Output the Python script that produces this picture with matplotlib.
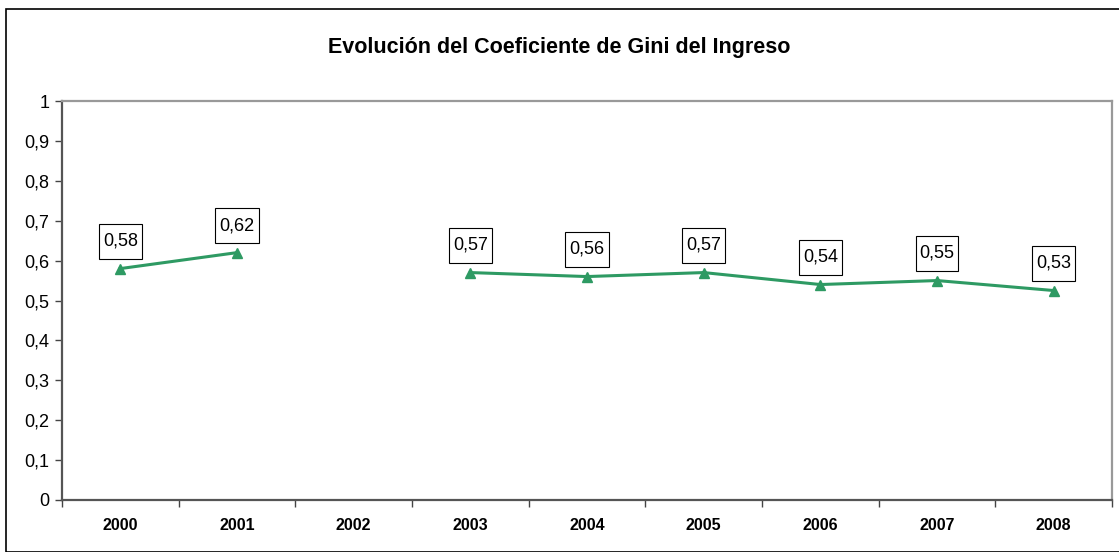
import matplotlib
matplotlib.use("Agg")
import matplotlib.pyplot as plt
import numpy as np
from matplotlib.patches import Rectangle
from matplotlib.path import Path

years = ["2000", "2001", "2002", "2003", "2004", "2005", "2006", "2007", "2008"]
gini = [0.58, 0.62, np.nan, 0.57, 0.56, 0.57, 0.54, 0.55, 0.525]
labels = ["0,58", "0,62", "", "0,57", "0,56", "0,57", "0,54", "0,55", "0,53"]
yticks = [0, 0.1, 0.2, 0.3, 0.4, 0.5, 0.6, 0.7, 0.8, 0.9, 1]
ytick_labels = ["0", "0,1", "0,2", "0,3", "0,4", "0,5", "0,6", "0,7", "0,8", "0,9", "1"]
title = "Evolución del Coeficiente de Gini del Ingreso"

plt.rcParams['font.family'] = ['Liberation Sans', 'DejaVu Sans']

fig = plt.figure(figsize=(11.19, 5.52), dpi=100)
ax = fig.add_axes([62/1119, 52/552, 1050/1119, 399/552])

# figure border
fig.patches.append(Rectangle((6/1119, 0.0), 1.0, 1 - 9/552, transform=fig.transFigure,
                             fill=False, edgecolor='black', linewidth=1.2))


def label_box(x0, y0, width, height, mutation_size):
    px = 0.22 * mutation_size
    py = 0.48 * mutation_size
    x0, x1 = x0 - px, x0 + width + px
    y0, y1 = y0 - py, y0 + height + py
    return Path([(x0, y0), (x1, y0), (x1, y1), (x0, y1), (x0, y0)], closed=True)


x = np.arange(len(years))
color = '#2E9A63'
ax.plot(x, gini, color=color, linewidth=2.2, marker='^', markersize=7,
        markeredgecolor=color, markerfacecolor=color)

for xi, yi, lab in zip(x, gini, labels):
    if lab and not np.isnan(yi):
        ax.annotate(lab, (xi, yi), xytext=(0, 19.5), textcoords='offset points',
                    ha='center', va='center', fontsize=13,
                    bbox=dict(boxstyle=label_box, facecolor='white',
                              edgecolor='black', linewidth=0.8))

ax.set_xlim(-0.5, len(years) - 0.5)
ax.set_ylim(0, 1)
ax.set_yticks(yticks)
ax.set_yticklabels(ytick_labels, fontsize=13)
ax.set_xticks(x)
ax.set_xticklabels(years, fontsize=11.5, fontweight='bold')
ax.set_xticks(np.arange(-0.5, len(years)), minor=True)
ax.tick_params(axis='x', which='major', length=0, pad=13)
ax.tick_params(axis='x', which='minor', length=5, width=1, color='#444444', direction='out')
ax.tick_params(axis='y', which='major', length=5, width=1, color='#444444', direction='out', pad=4)

for s in ['left', 'bottom']:
    ax.spines[s].set_color('#555555')
    ax.spines[s].set_linewidth(1.6)
for s in ['top', 'right']:
    ax.spines[s].set_color('#999999')
    ax.spines[s].set_linewidth(1.6)

fig.text(0.5, 1 - 47/552, title, ha='center', va='center', fontsize=15.5, fontweight='bold')

fig.savefig("out.png", dpi=100)
